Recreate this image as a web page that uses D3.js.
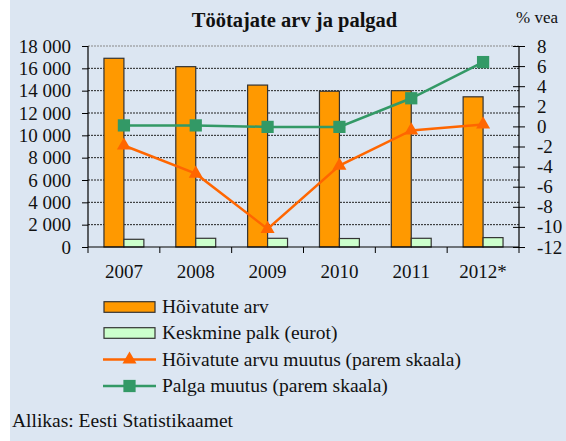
<!DOCTYPE html>
<html>
<head>
<meta charset="utf-8">
<script src="https://cdn.jsdelivr.net/npm/d3@7"></script>
<style>
  html, body { margin: 0; padding: 0; background: #fff; }
  svg { display: block; }
  text { font-family: "Liberation Serif", "Times New Roman", serif; fill: #111; }
</style>
</head>
<body>
<svg id="chart" width="566" height="441"></svg>
<script>
// ---- data ----
const years = ["2007", "2008", "2009", "2010", "2011", "2012*"];
const employees = [16900, 16150, 14500, 13950, 14000, 13450];   // Hõivatute arv
const avgWage = [690, 780, 780, 760, 780, 840];                   // Keskmine palk (eurot)
const employeesChange = [-1.9, -4.7, -10.2, -3.9, -0.4, 0.2];    // Hõivatute arvu muutus
const wageChange = [0.1, 0.1, -0.05, -0.05, 2.8, 6.4];           // Palga muutus
const leftTicks = [0, 2000, 4000, 6000, 8000, 10000, 12000, 14000, 16000, 18000];
const rightTicks = [-12, -10, -8, -6, -4, -2, 0, 2, 4, 6, 8];
const title = "Töötajate arv ja palgad";
const rightUnit = "% vea";
const legendLabels = ["Hõivatute arv", "Keskmine palk (eurot)", "Hõivatute arvu muutus (parem skaala)", "Palga muutus (parem skaala)"];
const source = "Allikas: Eesti Statistikaamet";

// ---- styles ----
const C = { bg: "#dce6f2", orange: "#ff9900", lightGreen: "#ccffcc", lineOrange: "#ff6600", lineGreen: "#339966" };

const svg = d3.select("#chart");
svg.append("rect").attr("x", 10).attr("y", 0).attr("width", 556).attr("height", 441).attr("fill", C.bg);

const L = 88, R = 519, T = 46, B = 247;
const x = d3.scaleBand().domain(years).range([L, R]).padding(0);
const sub = d3.scaleBand().domain(["emp", "wage"]).range([0, x.bandwidth()]).paddingInner(0).paddingOuter(0.8);
const yL = d3.scaleLinear().domain([0, 18000]).range([B, T]);
const yR = d3.scaleLinear().domain([-12, 8]).range([B, T]);
const fmt = d => d3.format(",")(d).replace(/,/g, " ");

// gridlines
svg.append("g").selectAll("line").data(leftTicks.filter(d => d > 0)).join("line")
  .attr("x1", L).attr("x2", R).attr("y1", d => yL(d)).attr("y2", d => yL(d))
  .attr("stroke", d => d === 18000 ? "#888" : "#222").attr("stroke-width", 1).attr("stroke-dasharray", "2,1");

// bars
const bars = svg.append("g");
bars.selectAll("rect.emp").data(years).join("rect").attr("class", "emp")
  .attr("x", d => x(d) + sub("emp")).attr("width", sub.bandwidth())
  .attr("y", (d, i) => yL(employees[i])).attr("height", (d, i) => yL(0) - yL(employees[i]))
  .attr("fill", C.orange).attr("stroke", "#333").attr("stroke-width", 1.2);
bars.selectAll("rect.wage").data(years).join("rect").attr("class", "wage")
  .attr("x", d => x(d) + sub("wage")).attr("width", sub.bandwidth())
  .attr("y", (d, i) => yL(avgWage[i])).attr("height", (d, i) => yL(0) - yL(avgWage[i]))
  .attr("fill", C.lightGreen).attr("stroke", "#333").attr("stroke-width", 1.2);

// axes
const axL = svg.append("g").attr("transform", `translate(${L},0)`)
  .call(d3.axisLeft(yL).tickValues(leftTicks).tickFormat(fmt).tickSize(6).tickPadding(11));
const axR = svg.append("g").attr("transform", `translate(${R},0)`)
  .call(d3.axisRight(yR).tickValues(rightTicks).tickFormat(d => d < 0 ? "-" + Math.abs(d) : d).tickSize(6).tickPadding(12));
axR.selectAll(".tick line").attr("x1", -6);
const axB = svg.append("g").attr("transform", `translate(0,${B})`)
  .call(d3.axisBottom(x).tickSize(0).tickPadding(0));
axB.selectAll(".tick text").attr("y", 31).attr("dy", 0);
// boundary ticks on x axis
svg.append("g").selectAll("line").data(years.concat(["end"])).join("line")
  .attr("x1", (d, i) => L + i * x.step()).attr("x2", (d, i) => L + i * x.step())
  .attr("y1", B).attr("y2", B + 6).attr("stroke", "#000");

[axL, axR, axB].forEach(a => {
  a.select(".domain").attr("stroke", "#000").attr("stroke-width", 1.2);
  a.selectAll(".tick line").attr("stroke", "#000");
  a.selectAll(".tick text").style("font-family", "Liberation Serif").style("font-size", "19px").attr("fill", "#111");
});
axB.select(".domain").attr("d", `M${L},0H${R}`);
axL.select(".domain").attr("d", `M0,${T}V${B}`);
axR.select(".domain").attr("d", `M0,${T}V${B}`);

// lines
const cx = d => x(d) + x.bandwidth() / 2;
const lineGen = vals => d3.line().x(d => cx(d)).y((d, i) => yR(vals[i]))(years);
svg.append("path").attr("d", lineGen(employeesChange)).attr("fill", "none").attr("stroke", C.lineOrange).attr("stroke-width", 2.5);
svg.append("path").attr("d", lineGen(wageChange)).attr("fill", "none").attr("stroke", C.lineGreen).attr("stroke-width", 2.5);
const tri = d3.symbol().type(d3.symbolTriangle).size(85);
const sq = d3.symbol().type(d3.symbolSquare).size(150);
svg.append("g").selectAll("path").data(years).join("path")
  .attr("transform", (d, i) => `translate(${cx(d)},${yR(employeesChange[i])})`).attr("d", tri).attr("fill", C.lineOrange);
svg.append("g").selectAll("path").data(years).join("path")
  .attr("transform", (d, i) => `translate(${cx(d)},${yR(wageChange[i])})`).attr("d", sq).attr("fill", C.lineGreen);

// title
svg.append("text").attr("x", 294.5).attr("y", 27).attr("text-anchor", "middle")
  .style("font-size", "20.5px").style("font-weight", "bold").text(title);
svg.append("text").attr("x", 516).attr("y", 23).style("font-size", "17px").text(rightUnit);

// legend
const lg = svg.append("g");
const rows = [307, 333, 359.5, 386];
lg.append("rect").attr("x", 104).attr("y", rows[0] - 5.3).attr("width", 51).attr("height", 10.6)
  .attr("fill", C.orange).attr("stroke", "#333").attr("stroke-width", 1.2);
lg.append("rect").attr("x", 104).attr("y", rows[1] - 5.3).attr("width", 51).attr("height", 10.6)
  .attr("fill", C.lightGreen).attr("stroke", "#333").attr("stroke-width", 1.2);
lg.append("line").attr("x1", 103).attr("x2", 156).attr("y1", rows[2]).attr("y2", rows[2]).attr("stroke", C.lineOrange).attr("stroke-width", 2.5);
lg.append("path").attr("transform", `translate(129.5,${rows[2]})`).attr("d", tri).attr("fill", C.lineOrange);
lg.append("line").attr("x1", 103).attr("x2", 156).attr("y1", rows[3]).attr("y2", rows[3]).attr("stroke", C.lineGreen).attr("stroke-width", 2.5);
lg.append("path").attr("transform", `translate(129.5,${rows[3]})`).attr("d", sq).attr("fill", C.lineGreen);
lg.selectAll("text").data(legendLabels).join("text")
  .attr("x", 162).attr("y", (d, i) => rows[i] + 6).style("font-size", "19.5px").text(d => d);

svg.append("text").attr("x", 12).attr("y", 427).style("font-size", "19.5px").text(source);
</script>
</body>
</html>
